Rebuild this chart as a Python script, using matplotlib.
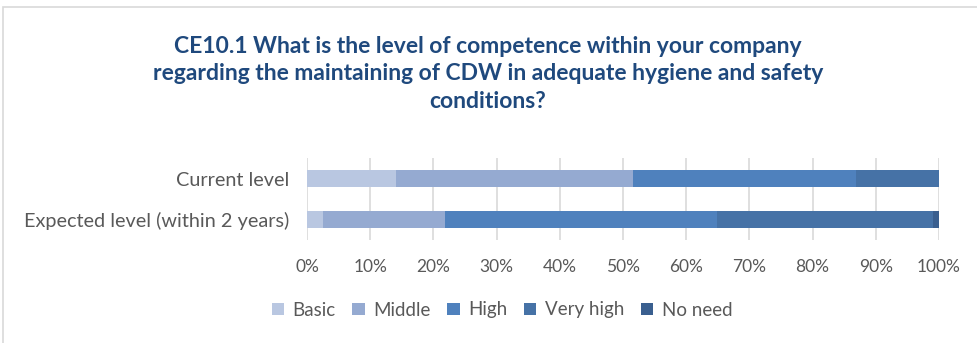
import matplotlib.pyplot as plt
from matplotlib.patches import Rectangle

categories = ["Current level", "Expected level (within 2 years)"]
levels = ["Basic", "Middle", "High", "Very high", "No need"]
basic = [14.1, 2.6]
middle = [37.5, 19.3]
high = [35.3, 42.9]
very_high = [13.1, 34.3]
no_need = [0.0, 0.9]
ticks = [0, 10, 20, 30, 40, 50, 60, 70, 80, 90, 100]

colors = ["#B9C7E1", "#95AAD1", "#4F81BD", "#4672A6", "#3A5F8F"]
title = ("CE10.1 What is the level of competence within your company\n"
         "regarding the maintaining of CDW in adequate hygiene and safety\n"
         "conditions?")

plt.rcParams["font.family"] = ["Lato", "DejaVu Sans"]

fig = plt.figure(figsize=(9.77, 3.43), dpi=100)
fig.patches.append(Rectangle((3 / 977, -0.1), 1.2, 1 - 7 / 343 + 0.1,
                             transform=fig.transFigure, fill=False,
                             edgecolor="#D9D9D9", linewidth=1.2))

ax = fig.add_axes([307 / 977, 1 - 240 / 343, 632 / 977, 82 / 343])
series = [basic, middle, high, very_high, no_need]
ypos = list(range(len(categories)))
left = [0.0] * len(categories)
for name, vals, col in zip(levels, series, colors):
    ax.barh(ypos, vals, left=left, height=0.42, color=col, label=name, zorder=3)
    left = [a + b for a, b in zip(left, vals)]

ax.set_xlim(0, 100)
ax.set_ylim(1.5, -0.5)
ax.set_yticks(ypos)
ax.set_yticklabels(categories, fontsize=14.3, color="#595959")
ax.set_xticks(ticks)
ax.set_xticklabels([f"{t}%" for t in ticks], fontsize=12.5, color="#595959")
ax.tick_params(length=0)
ax.tick_params(axis="y", pad=13)
ax.tick_params(axis="x", pad=14)
ax.grid(axis="x", color="#D9D9D9", linewidth=1.2, zorder=0)
for s in ax.spines.values():
    s.set_visible(False)

fig.text(488 / 977, 1 - 74 / 343, title, ha="center", va="center",
         fontsize=16.5, fontweight="bold", color="#1F497D", linespacing=1.38)

fig.legend(loc="center", bbox_to_anchor=(502 / 977, 1 - 310 / 343), ncol=5,
           frameon=False, fontsize=13.5, handlelength=0.65, handleheight=0.65,
           handletextpad=0.45, columnspacing=0.9, labelcolor="#595959")

fig.savefig("out.png", dpi=100)
